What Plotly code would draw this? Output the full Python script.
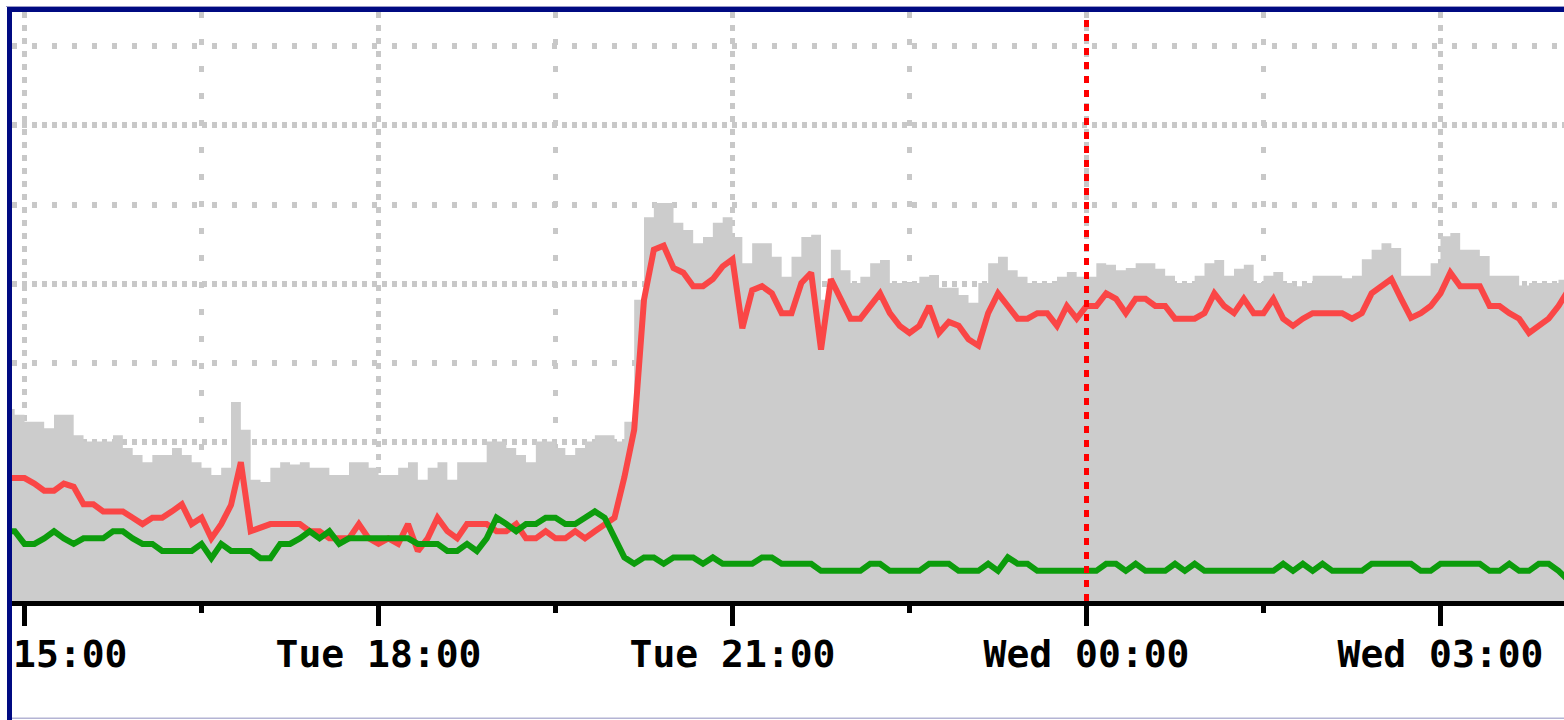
import pandas as pd
import plotly.graph_objects as go

# ---- data (5-minute samples, Tue 14:50 .. Wed 04:05) ----
times = pd.date_range("2024-01-02 14:50", periods=160, freq="5min")

total = [2.42, 2.35, 2.26, 2.26, 2.18, 2.35, 2.35, 2.09, 2.01, 2.01,
         2.01, 2.09, 1.93, 1.84, 1.75, 1.84, 1.84, 1.93, 1.84, 1.75,
         1.68, 1.59, 1.68, 2.51, 2.16, 1.53, 1.50, 1.68, 1.75, 1.72,
         1.75, 1.68, 1.68, 1.59, 1.59, 1.75, 1.75, 1.68, 1.59, 1.59,
         1.68, 1.75, 1.53, 1.68, 1.75, 1.53, 1.75, 1.75, 1.75, 2.01,
         2.01, 1.93, 1.84, 1.75, 2.01, 2.01, 1.93, 1.84, 1.93, 2.01,
         2.09, 2.09, 2.01, 2.26, 3.80, 4.84, 5.02, 5.02, 4.77, 4.68,
         4.51, 4.59, 4.77, 4.84, 4.59, 4.26, 4.51, 4.51, 4.34, 4.09,
         4.34, 4.59, 4.62, 3.80, 4.43, 4.17, 4.01, 4.09, 4.26, 4.30,
         4.01, 4.01, 4.01, 4.09, 4.11, 3.95, 3.95, 3.86, 3.76, 4.01,
         4.26, 4.34, 4.17, 4.09, 4.01, 4.01, 4.01, 4.09, 4.15, 4.09,
         4.09, 4.26, 4.24, 4.17, 4.20, 4.26, 4.26, 4.19, 4.10, 4.01,
         4.01, 4.10, 4.26, 4.30, 4.10, 4.19, 4.24, 4.01, 4.10, 4.15,
         4.01, 3.97, 4.01, 4.10, 4.10, 4.10, 4.07, 4.10, 4.31, 4.43,
         4.51, 4.45, 4.10, 4.10, 4.10, 4.26, 4.60, 4.64, 4.43, 4.43,
         4.35, 4.10, 4.10, 4.10, 3.98, 4.01, 4.01, 4.01, 4.05, 4.05]

red_series = [1.55, 1.55, 1.55, 1.48, 1.39, 1.39, 1.48, 1.44, 1.22, 1.22,
              1.13, 1.13, 1.13, 1.05, 0.97, 1.05, 1.05, 1.13, 1.22, 0.97,
              1.05, 0.79, 0.97, 1.21, 1.75, 0.88, 0.92, 0.97, 0.97, 0.97,
              0.97, 0.88, 0.88, 0.79, 0.79, 0.79, 0.97, 0.79, 0.72, 0.79,
              0.72, 0.97, 0.63, 0.79, 1.05, 0.88, 0.79, 0.97, 0.97, 0.97,
              0.88, 0.88, 0.97, 0.79, 0.79, 0.88, 0.79, 0.79, 0.88, 0.79,
              0.88, 0.97, 1.05, 1.56, 2.16, 3.80, 4.43, 4.48, 4.20, 4.14,
              3.97, 3.97, 4.06, 4.22, 4.31, 3.44, 3.92, 3.97, 3.88, 3.63,
              3.63, 4.01, 4.14, 3.17, 4.06, 3.81, 3.56, 3.56, 3.72, 3.88,
              3.63, 3.47, 3.38, 3.47, 3.72, 3.38, 3.52, 3.47, 3.30, 3.22,
              3.63, 3.88, 3.72, 3.56, 3.56, 3.63, 3.63, 3.47, 3.72, 3.56,
              3.72, 3.72, 3.88, 3.81, 3.63, 3.81, 3.81, 3.72, 3.72, 3.56,
              3.56, 3.56, 3.63, 3.88, 3.72, 3.63, 3.81, 3.63, 3.63, 3.81,
              3.56, 3.47, 3.56, 3.63, 3.63, 3.63, 3.63, 3.56, 3.63, 3.88,
              3.97, 4.06, 3.81, 3.57, 3.63, 3.72, 3.88, 4.14, 3.97, 3.97,
              3.97, 3.72, 3.72, 3.63, 3.56, 3.38, 3.47, 3.56, 3.72, 3.92]

green_series = [0.88, 0.88, 0.72, 0.72, 0.79, 0.88, 0.79, 0.72, 0.79, 0.79,
                0.79, 0.88, 0.88, 0.79, 0.72, 0.72, 0.63, 0.63, 0.63, 0.63,
                0.72, 0.54, 0.72, 0.63, 0.63, 0.63, 0.54, 0.54, 0.72, 0.72,
                0.79, 0.88, 0.79, 0.88, 0.72, 0.79, 0.79, 0.79, 0.79, 0.79,
                0.79, 0.79, 0.72, 0.72, 0.72, 0.63, 0.63, 0.72, 0.63, 0.79,
                1.05, 0.97, 0.88, 0.97, 0.97, 1.05, 1.05, 0.97, 0.97, 1.05,
                1.13, 1.05, 0.79, 0.55, 0.47, 0.55, 0.55, 0.47, 0.55, 0.55,
                0.55, 0.47, 0.55, 0.47, 0.47, 0.47, 0.47, 0.55, 0.55, 0.47,
                0.47, 0.47, 0.47, 0.38, 0.38, 0.38, 0.38, 0.38, 0.47, 0.47,
                0.38, 0.38, 0.38, 0.38, 0.47, 0.47, 0.47, 0.38, 0.38, 0.38,
                0.47, 0.38, 0.55, 0.47, 0.47, 0.38, 0.38, 0.38, 0.38, 0.38,
                0.38, 0.38, 0.47, 0.47, 0.38, 0.47, 0.38, 0.38, 0.38, 0.47,
                0.38, 0.47, 0.38, 0.38, 0.38, 0.38, 0.38, 0.38, 0.38, 0.38,
                0.47, 0.38, 0.47, 0.38, 0.47, 0.38, 0.38, 0.38, 0.38, 0.47,
                0.47, 0.47, 0.47, 0.47, 0.38, 0.38, 0.47, 0.47, 0.47, 0.47,
                0.47, 0.38, 0.38, 0.47, 0.38, 0.38, 0.47, 0.47, 0.38, 0.26]

marker_time = "2024-01-03 00:00:00"
x_range = ["2024-01-02 14:53:38", "2024-01-03 04:02:48"]
y_range = [0, 7.4275]

# ---- figure ----
W, H = 1564, 720
L, R, T, B = 12, 0, 12, 119
pw, ph = W - L - R, H - T - B


def px(xp):
    return (xp - L) / pw


def py(yp):
    return (H - B - yp) / ph


fig = go.Figure()
fig.add_trace(go.Scatter(x=times, y=total, mode="lines", line=dict(width=0, shape="hv", color="#cccccc"),
                         fill="tozeroy", fillcolor="#cccccc", hoverinfo="skip", showlegend=False))
fig.add_trace(go.Scatter(x=times, y=red_series, mode="lines", line=dict(width=6, color="#fa4646"),
                         showlegend=False))
fig.add_trace(go.Scatter(x=times, y=green_series, mode="lines", line=dict(width=6, color="#0c9c0c"),
                         showlegend=False))

grid_c = "#c8c8c8"
fig.update_layout(
    width=W, height=H,
    margin=dict(l=L, r=R, t=T, b=B, pad=0, autoexpand=False),
    paper_bgcolor="white", plot_bgcolor="white",
    showlegend=False,
    xaxis=dict(
        type="date", range=x_range, automargin=False,
        tick0="2024-01-02 00:00:00", dtick=10800000,
        tickformat="%a %H:%M",
        ticks="outside", ticklen=20, tickwidth=5, tickcolor="black",
        showline=True, linecolor="black", linewidth=5,
        showgrid=True, gridcolor=grid_c, gridwidth=5, griddash="6px,7px",
        zeroline=False,
        ticklabeloverflow="allow",
        tickfont=dict(family="DejaVu Sans Mono", size=38, color="black", weight="bold"),
        ticklabelstandoff=-5,
        minor=dict(dtick=5400000, tick0="2024-01-02 00:00:00", ticks="outside", ticklen=7,
                   tickwidth=5, tickcolor="black", showgrid=True, gridcolor=grid_c,
                   gridwidth=5, griddash="6px,21px"),
    ),
    yaxis=dict(
        range=y_range, showticklabels=False, ticks="", zeroline=False, showline=False,
        automargin=False, tick0=0, dtick=2,
        showgrid=True, gridcolor=grid_c, gridwidth=6, griddash="5px,5px",
        minor=dict(dtick=1, tick0=0, showgrid=True, gridcolor=grid_c, gridwidth=6, griddash="5px,15px"),
    ),
    shapes=[
        dict(type="line", xref="x", yref="paper", x0=marker_time, x1=marker_time, y0=0, y1=py(15),
             line=dict(color="#ff0000", width=5, dash="7px,7px"), layer="above"),
        dict(type="rect", xref="paper", yref="paper", x0=px(0), x1=px(7), y0=py(H), y1=py(0),
             fillcolor="white", line=dict(width=0), layer="above"),
        dict(type="rect", xref="paper", yref="paper", x0=px(7), x1=px(12), y0=py(H), y1=py(7),
             fillcolor="#000a82", line=dict(width=0), layer="above"),
        dict(type="rect", xref="paper", yref="paper", x0=px(7), x1=px(W), y0=py(12), y1=py(7),
             fillcolor="#000a82", line=dict(width=0), layer="above"),
        dict(type="rect", xref="paper", yref="paper", x0=px(6), x1=px(W), y0=py(7), y1=py(6),
             fillcolor="#9a9ac8", line=dict(width=0), layer="above"),
        dict(type="rect", xref="paper", yref="paper", x0=px(12), x1=px(W), y0=py(719), y1=py(717.5),
             fillcolor="#b4b4d4", line=dict(width=0), layer="above"),
    ],
)

fig.write_html(
    "out.html",
    config={"displayModeBar": False, "staticPlot": True},
    post_script="document.body.style.margin='0';document.body.style.overflow='hidden';",
)
